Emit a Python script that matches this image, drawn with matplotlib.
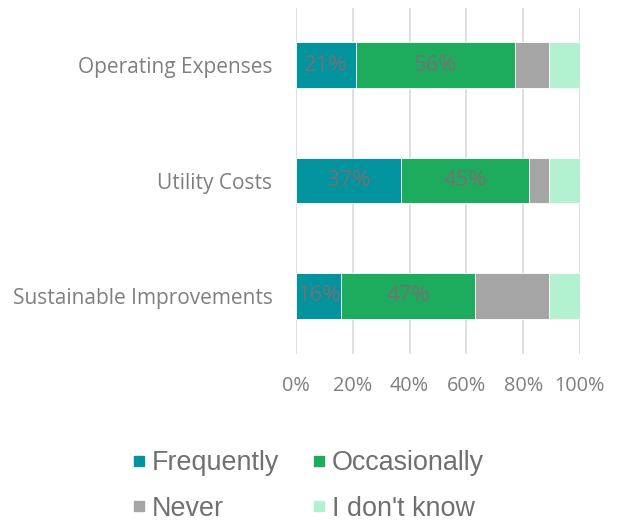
import matplotlib
matplotlib.use("Agg")
import matplotlib.pyplot as plt
from matplotlib.lines import Line2D
import numpy as np

categories = ["Operating Expenses", "Utility Costs", "Sustainable Improvements"]
series_names = ["Frequently", "Occasionally", "Never", "I don't know"]
frequently = [21, 37, 16]
occasionally = [56, 45, 47]
never = [12, 7, 26]
dont_know = [11, 11, 11]
xticks = [0, 20, 40, 60, 80, 100]
xtick_labels = ["0%", "20%", "40%", "60%", "80%", "100%"]

colors = ["#01939E", "#1DAB5E", "#A5A5A5", "#B3F1D1"]
label_color = "#767171"
tick_color = "#7F7F7F"
font = "Open Sans"

W, H = 619, 522
fig = plt.figure(figsize=(W / 100, H / 100), dpi=100)
ax = fig.add_axes([296 / W, (H - 353.5) / H, (580 - 296) / W, (353.5 - 7.5) / H])

y = np.arange(len(categories))
series = [frequently, occasionally, never, dont_know]
left = np.zeros(len(categories))
for i, (vals, c) in enumerate(zip(series, colors)):
    vals = np.array(vals, dtype=float)
    ax.barh(y, vals, left=left, height=0.394, color=c, edgecolor="white", linewidth=0.6, zorder=3)
    if i < 2:
        for yy, l, v in zip(y, left, vals):
            ax.text(l + v / 2, yy, f"{int(v)}%", ha="center", va="center",
                    fontsize=15.8, color=label_color, family=font, zorder=4)
    left += vals

ax.set_xlim(0, 100)
ax.set_ylim(2.5, -0.5)
ax.set_yticks(y)
ax.set_yticklabels(categories, fontsize=15.0, color=tick_color, family=font)
ax.set_xticks(xticks)
ax.set_xticklabels(xtick_labels, fontsize=14.3, color=tick_color, family=font)
ax.tick_params(axis="both", length=0)
ax.tick_params(axis="y", pad=17)
ax.tick_params(axis="x", pad=16)
for s in ax.spines.values():
    s.set_visible(False)
ax.grid(axis="x", color="#D9D9D9", linewidth=1.2, zorder=0)
ax.set_axisbelow(True)

handles = [Line2D([0], [0], marker="s", linestyle="none", markersize=7.6,
                  markerfacecolor=c, markeredgecolor=c) for c in colors]
order = [0, 2, 1, 3]
fig.legend([handles[k] for k in order], [series_names[k] for k in order],
           ncol=2, loc="center",
           bbox_to_anchor=(308 / W, 1 - 486 / H), frameon=False,
           prop={"family": "Liberation Sans", "size": 19.4},
           labelcolor="#707070", handletextpad=0.25, columnspacing=1.2,
           labelspacing=0.72, handlelength=0.5)

fig.savefig("out.png", dpi=100)
